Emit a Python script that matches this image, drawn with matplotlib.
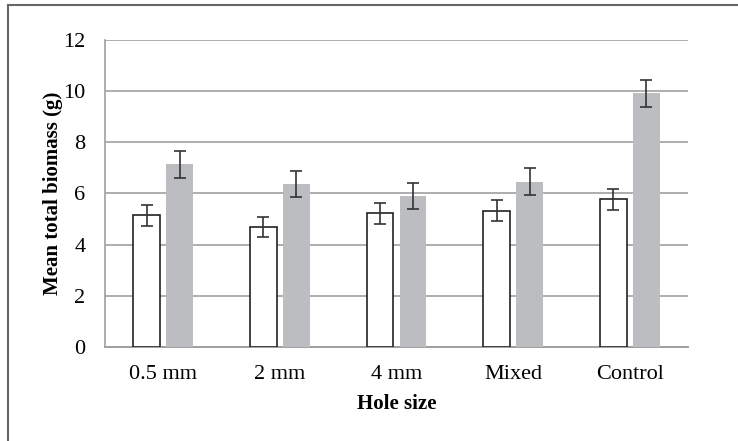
import numpy as np
import matplotlib.pyplot as plt
from matplotlib.lines import Line2D

plt.rcParams['font.family'] = ['Liberation Serif', 'DejaVu Serif']

# data
categories = ['0.5 mm', '2 mm', '4 mm', 'Mixed', 'Control']
white_vals = [5.14, 4.70, 5.22, 5.32, 5.77]
white_err = [0.41, 0.40, 0.42, 0.41, 0.41]
gray_vals = [7.15, 6.37, 5.90, 6.46, 9.91]
gray_err = [0.53, 0.52, 0.52, 0.53, 0.53]

fig = plt.figure(figsize=(7.38, 4.41), dpi=100)
ax = fig.add_axes([0.1423, 0.2132, 0.7899, 0.6961])

x = np.arange(len(categories))
w = 0.23
off = 0.142
ax.bar(x - off, white_vals, w, color='white', edgecolor='#222222', linewidth=1.2, zorder=3)
ax.bar(x + off, gray_vals, w, color='#bcbdc0', edgecolor='none', zorder=3)
ax.errorbar(x - off, white_vals, yerr=white_err, fmt='none', ecolor='#333333',
            elinewidth=1.2, capsize=4.5, capthick=1.2, zorder=4)
ax.errorbar(x + off, gray_vals, yerr=gray_err, fmt='none', ecolor='#333333',
            elinewidth=1.2, capsize=4.5, capthick=1.2, zorder=4)

ax.set_xlim(-0.5, len(categories) - 0.5)
ax.set_ylim(0, 12)
ax.set_yticks(range(0, 13, 2))
ax.set_xticks(x)
ax.set_xticklabels(categories, fontsize=16)
ax.tick_params(axis='y', labelsize=16, length=0, pad=14)
ax.tick_params(axis='x', length=0, pad=13)
ax.yaxis.grid(True, color='#a0a0a0', linewidth=1.2, zorder=0)
ax.set_axisbelow(True)
for s in ['top', 'right']:
    ax.spines[s].set_visible(False)
ax.spines['left'].set_color('#a0a0a0')
ax.spines['bottom'].set_color('#a0a0a0')
ax.spines['left'].set_linewidth(1.2)
ax.spines['bottom'].set_linewidth(1.4)

ax.set_ylabel('Mean total biomass (g)', fontsize=15, fontweight='bold', labelpad=0)
ax.set_xlabel('Hole size', fontsize=15, fontweight='bold', labelpad=7.5)

# outer frame (top and left edges)
fig.add_artist(Line2D([8 / 738, 8 / 738], [0, 1 - 5 / 441], transform=fig.transFigure,
                      color='#666666', linewidth=1.5))
fig.add_artist(Line2D([8 / 738, 1], [1 - 5 / 441, 1 - 5 / 441], transform=fig.transFigure,
                      color='#666666', linewidth=1.5))

fig.savefig('out.png', dpi=100)
